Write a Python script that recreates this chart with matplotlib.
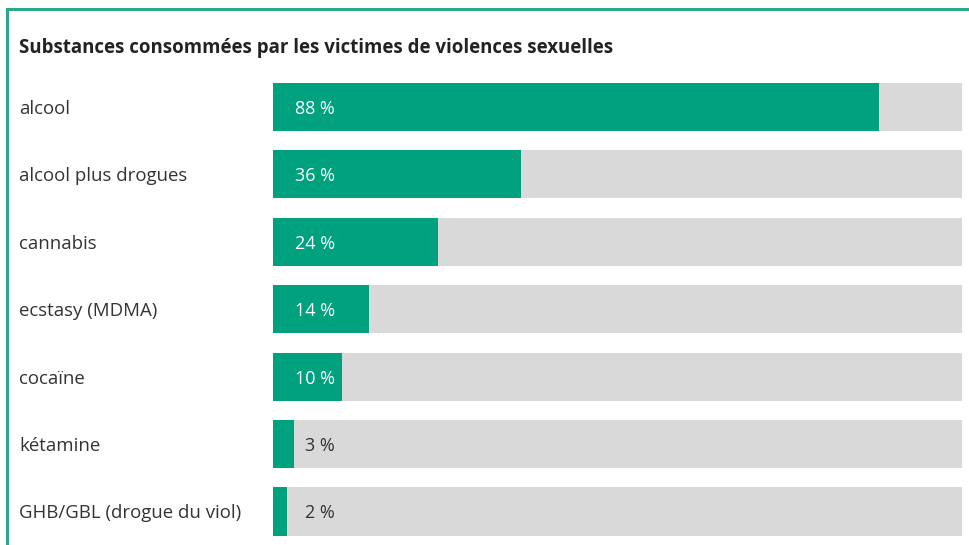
import matplotlib.pyplot as plt
import matplotlib.transforms as mtransforms
from matplotlib.patches import Rectangle

plt.rcParams['font.family'] = ['Open Sans', 'DejaVu Sans']

title = 'Substances consommées par les victimes de violences sexuelles'
categories = ['alcool', 'alcool plus drogues', 'cannabis', 'ecstasy (MDMA)',
              'cocaïne', 'kétamine', 'GHB/GBL (drogue du viol)']
values = [88, 36, 24, 14, 10, 3, 2]

green = '#00a17f'
grey = '#d9d9d9'
text_col = '#333333'

W, H = 970, 545
fig = plt.figure(figsize=(W / 100, H / 100), dpi=100)

# axes placed in pixel coords: bars from x=273 to 962, y=83 to 535
bar_h = 48 / 67.33
ylo, yhi = -bar_h / 2, len(values) - 1 + bar_h / 2
ax = fig.add_axes([273 / W, 1 - 535.5 / H, 689 / W, 452.5 / H])
ax.set_xlim(0, 100)
ax.set_ylim(yhi, ylo)
ax.axis('off')

ypos = range(len(values))
ax.barh(ypos, [100] * len(values), height=bar_h, color=grey, linewidth=0)
ax.barh(ypos, values, height=bar_h, color=green, linewidth=0)

px = 100 / 689  # data units per pixel
for y, v in zip(ypos, values):
    if v >= 8:
        ax.text(22 * px, y, f'{v} %', color='white', fontsize=13,
                va='center_baseline', ha='left')
    else:
        ax.text(max(v + 11 * px, 32 * px), y, f'{v} %', color=text_col,
                fontsize=13, va='center_baseline', ha='left')

# category labels on the left
trans = mtransforms.blended_transform_factory(fig.transFigure, ax.transData)
for y, c in zip(ypos, categories):
    ax.text(19 / W, y, c, transform=trans, color=text_col, fontsize=13.4,
            va='center_baseline', ha='left', clip_on=False)

fig.text(19 / W, 1 - 46 / H, title, fontsize=13.4, fontweight='bold',
         color='#222222', va='center_baseline', ha='left')

# green frame, open to the right and bottom
fig.patches.append(Rectangle((7.5 / W, -0.1), 1.2, 1.1 - 9 / H,
                             transform=fig.transFigure, fill=False,
                             edgecolor='#2aa889', linewidth=2.2))

fig.savefig('out.png', dpi=100)
